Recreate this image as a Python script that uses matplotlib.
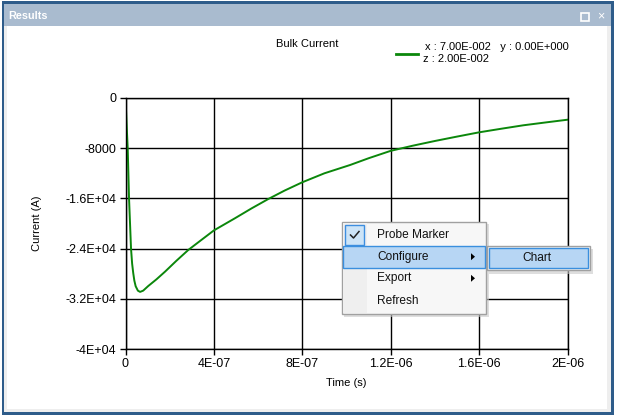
import matplotlib.pyplot as plt
from matplotlib.patches import Rectangle, Polygon
import numpy as np

plt.rcParams['font.family'] = ['Liberation Sans', 'DejaVu Sans']

# Bulk current curve
time_s = [0, 5e-9, 1.0e-8, 1.6e-8, 2.5e-8, 3.0e-8, 3.5e-8, 4.0e-8, 4.6e-8, 5.6e-8, 6.6e-8,
          8.0e-8, 1.03e-7, 1.4e-7, 1.79e-7, 2.3e-7, 2.84e-7, 3.37e-7, 4.0e-7,
          4.95e-7, 5.7e-7, 6.46e-7, 7.2e-7, 8.0e-7, 9.0e-7, 1.016e-6, 1.1e-6,
          1.2e-6, 1.3e-6, 1.4e-6, 1.5e-6, 1.6e-6, 1.7e-6, 1.8e-6, 1.9e-6, 2.0e-6]
current_a = [0, -4200, -8000, -16000, -24000, -26400, -27900, -29100, -30000, -30700, -30900,
             -30700, -29960, -28900, -27670, -25950, -24220, -22790, -21100,
             -19170, -17600, -16100, -14750, -13430, -12000, -10680, -9600,
             -8420, -7600, -6850, -6150, -5470, -4900, -4350, -3900, -3460]

x_ticks = [0, 4e-7, 8e-7, 1.2e-6, 1.6e-6, 2e-6]
x_labels = ['0', '4E-07', '8E-07', '1.2E-06', '1.6E-06', '2E-06']
y_ticks = [0, -8000, -16000, -24000, -32000, -40000]
y_labels = ['0', '-8000', '-1.6E+04', '-2.4E+04', '-3.2E+04', '-4E+04']

menu_items = ['Probe Marker', 'Configure', 'Export', 'Refresh']
submenu_items = ['Chart']

W, H = 618, 418
fig = plt.figure(figsize=(W / 100, H / 100), dpi=100)

# window frame drawn in pixel coordinates
bg = fig.add_axes([0, 0, 1, 1])
bg.set_xlim(0, W)
bg.set_ylim(H, 0)
bg.axis('off')
bg.add_patch(Rectangle((2, 1), 612, 413.5, fc='#2e5c8a', ec='none'))
bg.add_patch(Rectangle((4, 4), 607, 408, fc='#eeeeee', ec='none'))
bg.add_patch(Rectangle((4, 4), 607, 22, fc='#a9bbcf', ec='none'))
bg.add_patch(Rectangle((7, 26), 600, 383, fc='white', ec='none'))
bg.text(8, 16, 'Results', color='white', fontsize=7.8, fontweight='bold', va='center')
bg.add_patch(Rectangle((581, 13), 8, 8, fc='none', ec='white', lw=1.2))
bg.text(601, 16.5, '\u00d7', color='white', fontsize=9, ha='center', va='center')

# chart
ax = fig.add_axes([125.5 / W, (H - 349) / H, 442 / W, 251 / H])
ax.plot(time_s, current_a, color='#0b870b', lw=1.4, clip_on=True, solid_joinstyle='round')
ax.set_xlim(0, 2e-6)
ax.set_ylim(-40000, 0)
ax.set_xticks(x_ticks)
ax.set_xticklabels(x_labels)
ax.set_yticks(y_ticks)
ax.set_yticklabels(y_labels)
ax.grid(True, color='black', lw=1)
for s in ax.spines.values():
    s.set_color('black')
    s.set_linewidth(1)
ax.tick_params(axis='both', length=4.5, width=1, labelsize=9, pad=2, colors='black')
ax.set_xlabel('Time (s)', fontsize=8, labelpad=6)
ax.set_ylabel('Current (A)', fontsize=8, labelpad=17)

# title and legend
bg.text(307, 44, 'Bulk Current', fontsize=8, ha='center', va='center')
bg.plot([396, 418], [54, 54], color='#0b870b', lw=2)
bg.text(425, 47, 'x : 7.00E-002   y : 0.00E+000', fontsize=8, va='center')
bg.text(423, 59, 'z : 2.00E-002', fontsize=8, va='center')

# context menu overlay
ov = fig.add_axes([0, 0, 1, 1], zorder=10)
ov.set_xlim(0, W)
ov.set_ylim(H, 0)
ov.axis('off')
ov.patch.set_alpha(0)

ov.add_patch(Rectangle((344, 224), 145, 93, fc='#c8c8c8', ec='none', alpha=0.6))
ov.add_patch(Rectangle((341.5, 221.5), 144.5, 92.5, fc='#f7f7f7', ec='#a0a0a0', lw=1))
ov.add_patch(Rectangle((342.5, 222.5), 24, 90.5, fc='#efefef', ec='none'))
ov.add_patch(Rectangle((344.5, 224.5), 19, 20, fc='#cde4f7', ec='#3d8ee0', lw=1))
ov.plot([350.5, 353.5, 359], [235, 238, 231.5], color='#222222', lw=1.1)
ov.add_patch(Rectangle((343, 246), 142, 21.5, fc='#b7d6f4', ec='#3a8fde', lw=1))
menu_y = [235, 256.7, 278.3, 300.5]
for label, yy in zip(menu_items, menu_y):
    ov.text(377, yy, label, fontsize=8.6, va='center', color='#111111')
for yy in menu_y[1:3]:
    ov.add_patch(Polygon([[471, yy - 3.5], [471, yy + 3.5], [475, yy]], fc='black', ec='none'))

# submenu
ov.add_patch(Rectangle((489, 249), 104, 25, fc='#c8c8c8', ec='none', alpha=0.6))
ov.add_patch(Rectangle((486.5, 246), 103.5, 24, fc='#f7f7f7', ec='#a0a0a0', lw=1))
ov.add_patch(Rectangle((488.5, 247.5), 99, 20.5, fc='#b7d6f4', ec='#3a8fde', lw=1))
ov.text(536.5, 258, submenu_items[0], fontsize=8.6, ha='center', va='center', color='#111111')

fig.savefig('out.png', dpi=100)
